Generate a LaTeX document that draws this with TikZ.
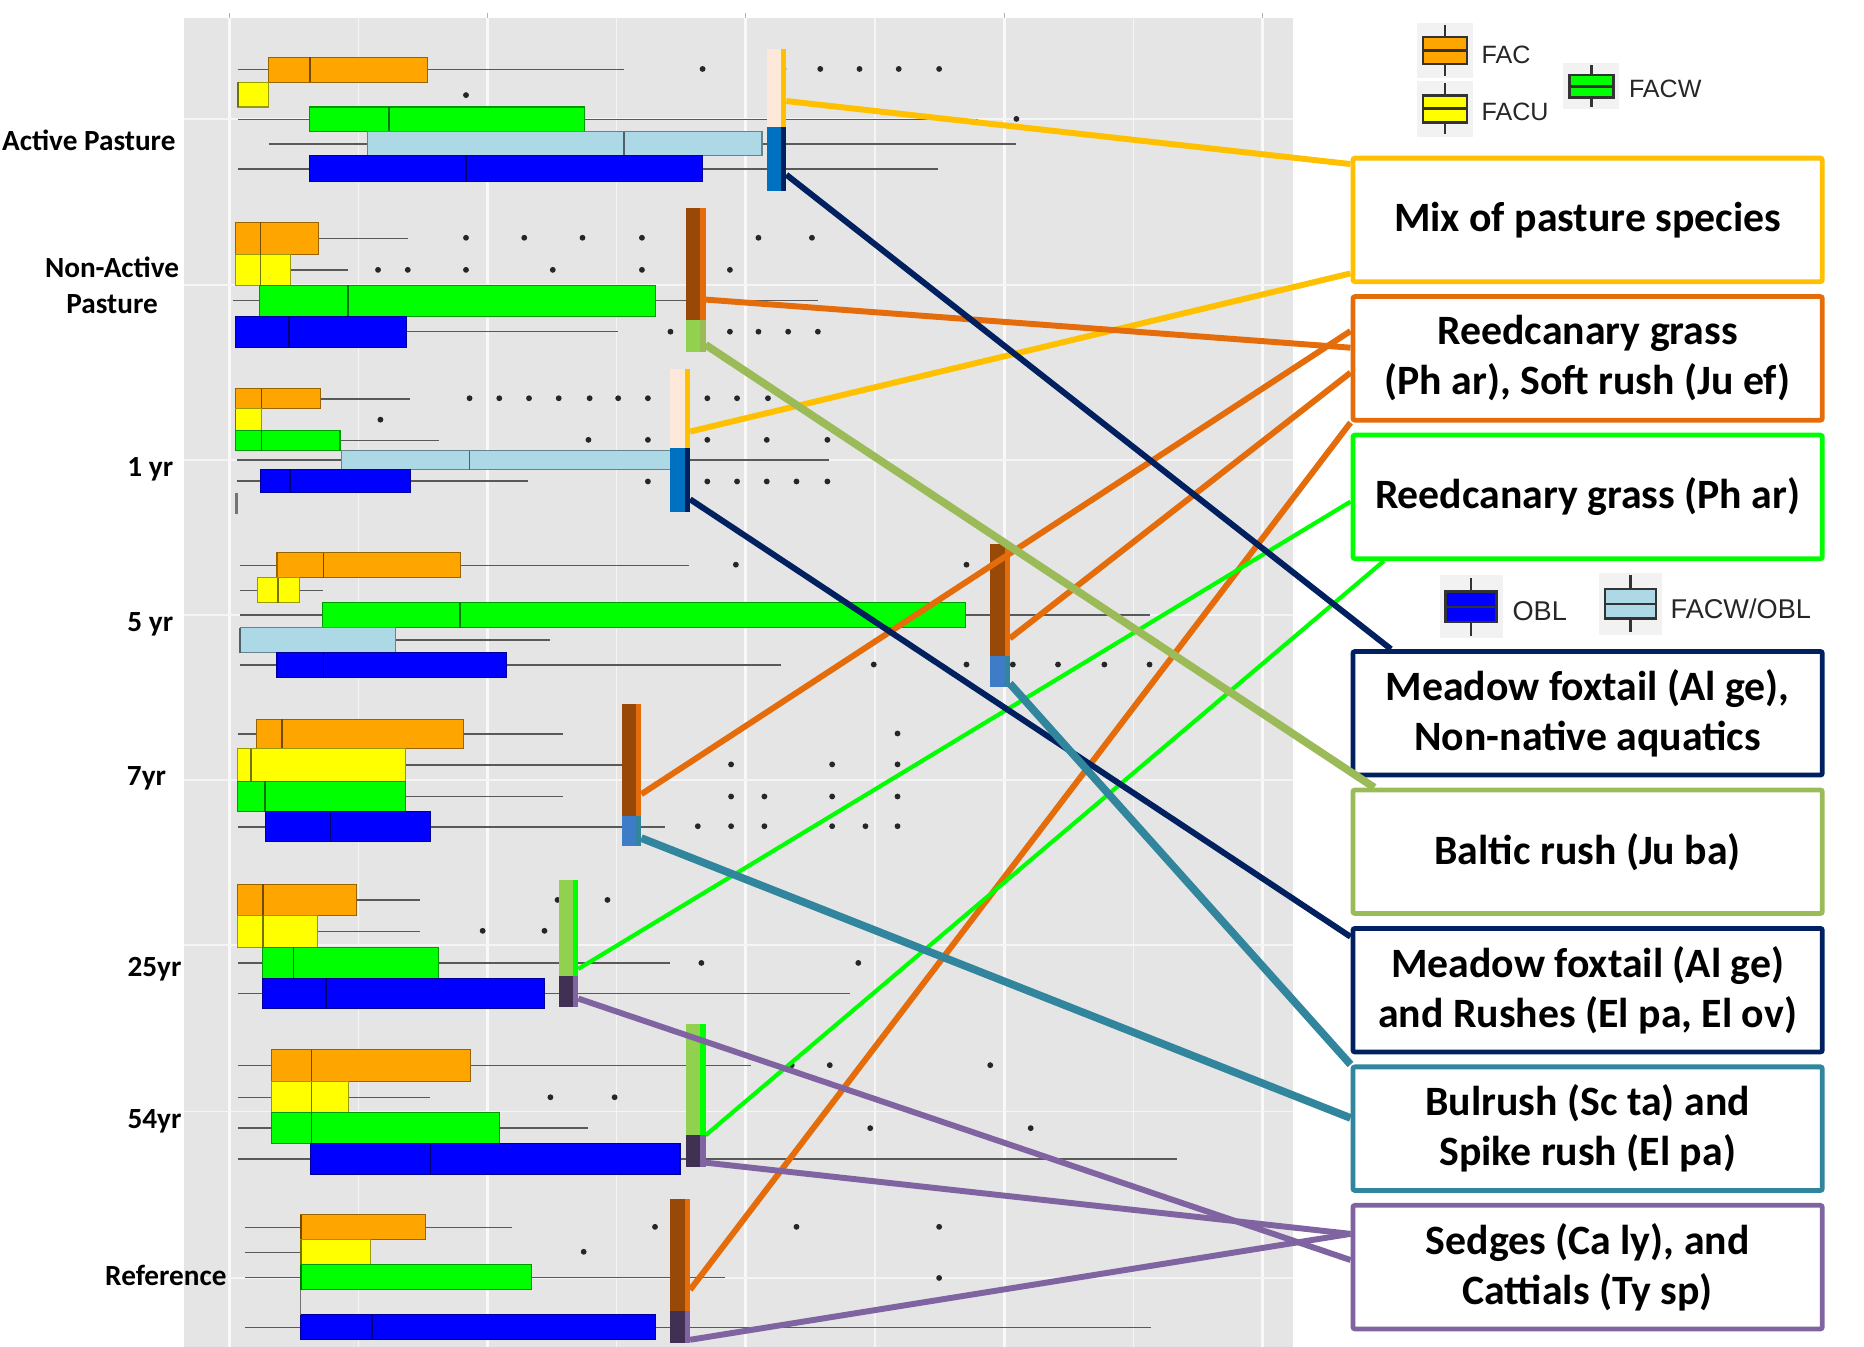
\documentclass[tikz,border=0pt]{standalone}
\usepackage{fontspec}
\setmainfont{Carlito}
\newfontfamily\legfont{Liberation Sans}
\usetikzlibrary{positioning}

\definecolor{fac}{HTML}{FFA500}
\definecolor{facu}{HTML}{FFFF00}
\definecolor{facw}{HTML}{00FF00}
\definecolor{fobl}{HTML}{ADD8E6}
\definecolor{obl}{HTML}{0000FF}
\definecolor{panel}{HTML}{E5E5E5}
\definecolor{gold}{HTML}{FFC000}
\definecolor{peach}{HTML}{FDE9D9}
\definecolor{rust}{HTML}{984807}
\definecolor{ornge}{HTML}{E46C0A}
\definecolor{lgreen}{HTML}{92D050}
\definecolor{brgreen}{HTML}{00FF00}
\definecolor{olivec}{HTML}{9BBB59}
\definecolor{midblue}{HTML}{0070C0}
\definecolor{navy}{HTML}{002060}
\definecolor{sblue}{HTML}{3F7CC8}
\definecolor{tealc}{HTML}{31859C}
\definecolor{plum}{HTML}{403152}
\definecolor{lilac}{HTML}{8064A2}

% one box of a boxplot: y1 y2 whisker-left q1 median q3 whisker-right colour
\newcommand{\bxp}[8]{%
  \draw[whisk] (#3,{(#1+#2)/2}) -- (#7,{(#1+#2)/2});
  \filldraw[fill=#8, draw=#8!60!black, line width=0.5pt] (#4,#1) rectangle (#6,#2);
  \draw[#8!45!black, line width=0.8pt] (#5,#1) -- (#5,#2);
}
% indicator bar: name x ytop ysplit ybottom topfill topedge botfill botedge
\newcommand{\flagbar}[9]{%
  \node[seg, fill=#6, minimum height={(#4-#3)*0.02cm}] (#1T) at (#2,#3) {};
  \fill[#7] ([xshift=-0.09cm]#1T.north east) rectangle (#1T.south east);
  \node[seg, fill=#8, minimum height={(#5-#4)*0.02cm}] (#1B) at (#1T.south west) {};
  \fill[#9] ([xshift=-0.09cm]#1B.north east) rectangle (#1B.south east);
}
% legend key: x1 y1 x2 y2 colour
\newcommand{\legkey}[5]{%
  \fill[black!5] (#1,#2) rectangle (#3,#4);
  \draw[black!80, line width=0.045cm] ({(#1+#3)/2},{#2+2}) -- ({(#1+#3)/2},{#4-2});
  \filldraw[fill=#5, draw=black!80, line width=0.045cm] ({#1+5},{#2+0.26*(#4-#2)}) rectangle ({#3-5},{#4-0.26*(#4-#2)});
  \draw[black!80, line width=0.045cm] ({#1+5},{(#2+#4)/2}) -- ({#3-5},{(#2+#4)/2});
}

\begin{document}
\begin{tikzpicture}[x=0.02cm,y=-0.02cm,
  whisk/.style={draw=black!65, line width=0.7pt},
  seg/.style={rectangle, inner sep=0pt, outer sep=0pt, minimum width=0.33cm, anchor=north west},
  link/.style={line width=0.1cm},
  lbl/.style={draw, line width=0.08cm, fill=white, rounded corners=1pt, minimum width=7.9cm,
    minimum height=2.08cm, align=center, inner sep=2pt, font=\bfseries\fontsize{20}{24}\selectfont},
  rowlbl/.style={anchor=east, align=center, inner sep=0pt, font=\bfseries\fontsize{14}{16.8}\selectfont},
  legtxt/.style={anchor=west, inner sep=0pt, text=black!85}]
\useasboundingbox (0,0) rectangle (1568,1133);

% panel and grid
\fill[panel] (155,15) rectangle (1088,1133);
\foreach \x in {301.5,518.5,736,953.5}
  \draw[white!60!panel, line width=0.02cm] (\x,15) -- (\x,1133);
\foreach \x in {193,410,627,845,1062} {
  \draw[white!75!panel, line width=0.04cm] (\x,15) -- (\x,1133);
  \draw[black!30, line width=0.3pt] (\x,11) -- (\x,15);
}
\foreach \y in {100,240,387,517,656,795,935,1075}
  \draw[white!60!panel, line width=0.03cm] (155,\y) -- (1088,\y);

% boxplots
\foreach \ya/\yb/\wl/\qa/\md/\qb/\wr/\cl in {
  48/69/200/226/261/360/525/fac, 69/90/200/200/200/226/226/facu,
  90/111/200/260/327/492/823/facw, 111/131/226/309/525/641/855/fobl,
  131/153/200/260/392/591/789/obl,
  187/214/198/198/219/268/343/fac, 214/240/198/198/219/244/293/facu,
  240/266/196/218/293/551/688/facw, 266/292/198/198/243/342/520/obl,
  327/344/198/198/220/270/345/fac, 344/362/198/198/198/220/220/facu,
  362/379/198/198/220/286/369/facw, 379/395/199/287/395/564/697/fobl,
  395/414/199/219/244/345/444/obl,
  465/486/202/233/272/387/580/fac, 486/507/202/217/234/252/272/facu,
  507/528/202/271/387/812/967/facw, 528/549/202/202/202/333/463/fobl,
  549/570/202/233/272/426/657/obl,
  605/630/200/216/237/390/474/fac, 630/657/200/200/211/341/523/facu,
  657/683/200/200/223/341/474/facw, 683/708/200/223/278/362/559/obl,
  744/770/200/200/221/300/353/fac, 770/797/200/200/221/267/353/facu,
  797/823/200/221/247/369/564/facw, 823/848/200/221/274/458/715/obl,
  883/910/200/228/262/396/632/fac, 910/936/200/228/262/293/362/facu,
  936/962/200/228/262/420/495/facw, 962/988/200/261/362/572/990/obl,
  1022/1043/206/253/253/358/431/fac, 1043/1064/206/253/253/312/312/facu,
  1064/1085/206/253/253/447/610/facw, 1106/1127/206/253/313/551/968/obl}
  \bxp{\ya}{\yb}{\wl}{\qa}{\md}{\qb}{\wr}{\cl};
\draw[black!55, line width=0.04cm] (199,415) -- (199,432);
\draw[black!55, line width=0.6pt] (253,1085) -- (253,1106);

% outliers
\foreach \x/\y in {591/58,659/58,690/58,723/58,756/58,790/58,392/80,855/100,
  392/200,441/200,490/200,540/200,638/200,683/200,
  318/227,343/227,392/227,465/227,540/227,614/227,
  564/279,614/279,638/279,663/279,688/279,
  395/335,420/335,445/335,470/335,496/335,520/335,545/335,595/335,620/335,646/335,
  320/353,495/370,545/370,595/370,645/370,696/370,
  545/405,595/405,620/405,645/405,670/405,696/405,
  619/475,813/475,735/559,813/559,852/559,890/559,929/559,967/559,
  755/617,615/643,700/643,755/643,615/670,643/670,700/670,755/670,
  587/695,615/695,643/695,700/695,728/695,755/695,
  469/757,511/757,406/783,458/783,590/810,722/810,
  666/896,698/896,833/896,463/923,517/923,732/949,867/949,
  551/1032,670/1032,790/1032,491/1053,790/1075}
  \fill[black!85] (\x,\y) circle (1.4pt);

% row labels
\node[rowlbl] (lap) at (148,118) {Active Pasture};
\node[rowlbl] (lna) at (151,240) {Non-Active\\Pasture};
\node[rowlbl] (lone) at (146,395) {1 yr};
\node[rowlbl] (lfive) at (146,525) {5 yr};
\node[rowlbl] (lseven) at (140,655) {7yr};
\node[rowlbl] (ltwfive) at (153,815) {25yr};
\node[rowlbl] (lfifty) at (153,943) {54yr};
\node[rowlbl] (lref) at (191,1073) {Reference};

% indicator bars
\flagbar{ap}{645}{41}{107}{161}{peach}{gold}{midblue}{navy}
\flagbar{na}{577}{175}{269}{296}{rust}{ornge}{lgreen}{olivec}
\flagbar{oy}{564}{310}{377}{431}{peach}{gold}{midblue}{navy}
\flagbar{fy}{833}{458}{552}{578}{rust}{ornge}{sblue}{tealc}
\flagbar{sy}{523}{592}{686}{712}{rust}{ornge}{sblue}{tealc}
\flagbar{tf}{470}{740}{821}{847}{lgreen}{brgreen}{plum}{lilac}
\flagbar{ff}{577}{861}{955}{982}{lgreen}{brgreen}{plum}{lilac}
\flagbar{rf}{564}{1009}{1103}{1130}{rust}{ornge}{plum}{lilac}

% species boxes
\node[lbl, draw=gold] (mix) at (1335.5,185) {Mix of pasture species};
\node[lbl, draw=ornge, below=0.17cm of mix] (rcs) {Reedcanary grass\\(Ph ar), Soft rush (Ju ef)};
\node[lbl, draw=brgreen, below=0.17cm of rcs] (rc) {Reedcanary grass (Ph ar)};
\node[lbl, draw=navy] (mf) at (1335.5,600) {Meadow foxtail (Al ge),\\Non-native aquatics};
\node[lbl, draw=olivec, below=0.17cm of mf] (br) {Baltic rush (Ju ba)};
\node[lbl, draw=navy, below=0.17cm of br] (mfr) {Meadow foxtail (Al ge)\\and Rushes (El pa, El ov)};
\node[lbl, draw=tealc, below=0.17cm of mfr] (bul) {Bulrush (Sc ta) and\\Spike rush (El pa)};
\node[lbl, draw=lilac, below=0.17cm of bul] (sed) {Sedges (Ca ly), and\\Cattials (Ty sp)};

% connectors
\draw[link, gold] ([yshift=0.44cm]apT.south east) -- ([yshift=-0.14cm]mix.north west);
\draw[link, gold] ([yshift=0.28cm]oyT.south east) -- ([yshift=0.18cm]mix.south west);
\draw[link, ornge] ([yshift=0.34cm]naT.south east) -- ([yshift=-0.9cm]rcs.north west);
\draw[link, ornge] ([yshift=0.36cm]syT.south east) -- ([yshift=-0.62cm]rcs.north west);
\draw[link, ornge] ([yshift=0.30cm]fyT.south east) -- ([yshift=-1.32cm]rcs.north west);
\draw[link, ornge] ([yshift=0.36cm]rfT.south east) -- (rcs.south west);
\draw[link, brgreen, line width=0.07cm] ([yshift=0.12cm]tfT.south east) -- ([yshift=-1.16cm]rc.north west);
\draw[link, brgreen, line width=0.07cm] (ffT.south east) -- ([xshift=0.56cm]rc.south west);
\draw[link, navy] ([yshift=0.28cm]apB.south east) -- ([xshift=0.68cm]mf.north west);
\draw[link, olivec, line width=0.13cm] ([yshift=0.12cm]naB.south east) -- ([xshift=0.4cm]br.north west);
\draw[link, navy] ([yshift=0.22cm]oyB.south east) -- ([yshift=-0.18cm]mfr.north west);
\draw[link, tealc, line width=0.13cm] ([yshift=0.06cm]fyB.south east) -- (bul.north west);
\draw[link, tealc, line width=0.13cm] ([yshift=0.14cm]syB.south east) -- ([yshift=-0.9cm]bul.north west);
\draw[link, lilac] ([yshift=0.14cm]tfB.south east) -- ([yshift=-0.96cm]sed.north west);
\draw[link, lilac] ([yshift=0.08cm]ffB.south east) -- ([yshift=-0.52cm]sed.north west);
\draw[link, lilac] ([yshift=0.06cm]rfB.south east) -- ([yshift=-0.52cm]sed.north west);

% legend
\legkey{1192}{19}{1239}{66}{fac}
\legkey{1192}{68}{1239}{115}{facu}
\legkey{1315}{53}{1362}{92}{facw}
\legkey{1211}{484}{1264}{537}{obl}
\legkey{1345}{482}{1398}{534}{fobl}
\node[legtxt, font=\legfont\fontsize{12}{14}\selectfont] (kfac) at (1246,46) {FAC};
\node[legtxt, font=\legfont\fontsize{12}{14}\selectfont] (kfacu) at (1246,94) {FACU};
\node[legtxt, font=\legfont\fontsize{12}{14}\selectfont] (kfacw) at (1370,75) {FACW};
\node[legtxt, font=\legfont\fontsize{13}{15}\selectfont] (kobl) at (1272,514) {OBL};
\node[legtxt, font=\legfont\fontsize{13}{15}\selectfont] (kfobl) at (1405,512) {FACW/OBL};
\end{tikzpicture}
\end{document}
